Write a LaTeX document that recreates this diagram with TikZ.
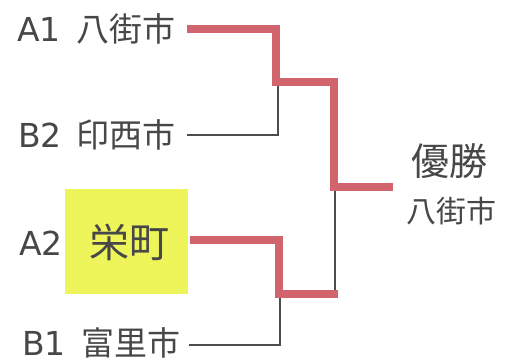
\documentclass[tikz,border=0pt]{standalone}
\usepackage{fontspec}
\setmainfont{Noto Sans CJK JP}
\newfontfamily\lat{DejaVu Sans}
\newcommand{\lt}[1]{{\lat #1}}
\begin{document}
\begin{tikzpicture}[x=1pt,y=-1pt,
  lbl/.style={text=black!72, font=\fontsize{33}{35}\selectfont, inner sep=0pt},
  win/.style={draw={rgb,255:red,210;green,100;blue,110}, line width=7.5pt},
  lose/.style={draw=black!70, line width=1.5pt}]
\useasboundingbox (0,0) rectangle (512,362);
\definecolor{boxy}{RGB}{238,245,90}
\fill[boxy] (65,189) rectangle (188,294);
\node[lbl, anchor=east] (a1) at (176,29) {\lt{A1}\hspace{16pt}八街市};
\node[lbl, anchor=east] (b2) at (176,135) {\lt{B2}\hspace{15pt}印西市};
\node[lbl, anchor=west] (a2) at (19,243) {\lt{A2}};
\node[lbl, font=\fontsize{40}{42}\selectfont] (sakae) at (129,242) {栄町};
\node[lbl, anchor=east] (b1) at (181,343) {\lt{B1}\hspace{16pt}富里市};
\node[lbl, font=\fontsize{38}{40}\selectfont] (yusho) at (449,161) {優勝};
\node[lbl, font=\fontsize{30}{32}\selectfont] (champ) at (451,211) {八街市};
\coordinate (s1) at (187,29);
\coordinate (s2) at (187,135);
\coordinate (s3) at (190,240);
\coordinate (s4) at (189,345);
\coordinate (f) at (393,187);
\draw[lose] (s2) -- (278,135) -- (278,82);
\draw[lose] (s4) -- (280,345) -- (280,294);
\draw[lose] (335,294) -- (335,187);
\draw[win, line join=miter] (s1) -- (276,29) -- (276,82) -- (334,82) -- (334,187) -- (f);
\draw[win, line join=miter] (s3) -- (279,240) -- (279,294) -- (338,294);
\end{tikzpicture}
\end{document}
